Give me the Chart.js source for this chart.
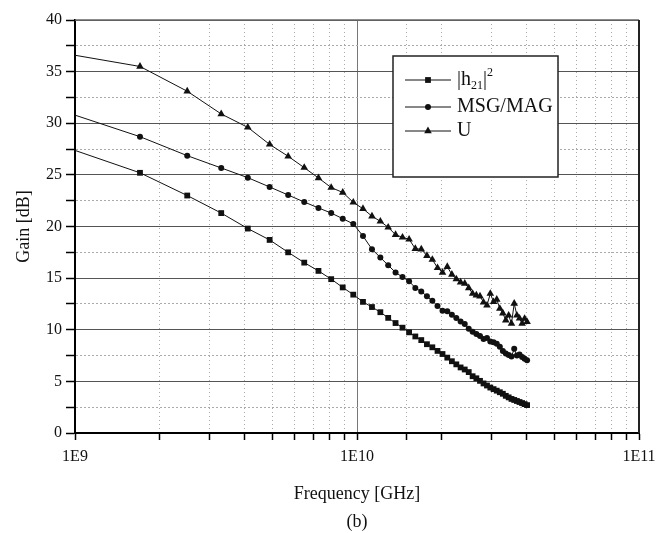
<!DOCTYPE html>
<html>
<head>
<meta charset="utf-8">
<script src="https://cdn.jsdelivr.net/npm/chart.js@4.4.1/dist/chart.umd.min.js"></script>
<style>
  html, body { margin: 0; padding: 0; background: #fff; }
</style>
</head>
<body>
<canvas id="gainChart" width="660" height="533"></canvas>
<script>
// Gain vs frequency, three series on a log frequency axis
// frequency points in GHz (first one sits just left of the axis, line enters from the edge)
const freqGHz = [0.9, 1.7, 2.5, 3.3, 4.1, 4.9, 5.7, 6.5, 7.3, 8.1,
  8.9, 9.7, 10.5, 11.3, 12.1, 12.9, 13.7, 14.5, 15.3, 16.1,
  16.9, 17.7, 18.5, 19.3, 20.1, 20.9, 21.7, 22.5, 23.3, 24.1,
  24.9, 25.7, 26.5, 27.3, 28.1, 28.9, 29.7, 30.5, 31.3, 32.1,
  32.9, 33.7, 34.5, 35.3, 36.1, 36.9, 37.7, 38.5, 39.3, 40.1];

const h21 = [27.8, 25.2, 23.0, 21.3, 19.8, 18.7, 17.5, 16.5, 15.7, 14.9,
  14.1, 13.4, 12.7, 12.2, 11.7, 11.15, 10.65, 10.2, 9.75, 9.35,
  9.0, 8.6, 8.3, 7.95, 7.65, 7.3, 6.95, 6.65, 6.35, 6.15,
  5.9, 5.5, 5.3, 5.05, 4.8, 4.6, 4.4, 4.25, 4.1, 3.95,
  3.8, 3.6, 3.45, 3.3, 3.2, 3.1, 3.0, 2.9, 2.8, 2.7];

const msgMag = [31.2, 28.7, 26.86, 25.67, 24.73, 23.83, 23.05, 22.37, 21.8, 21.3,
  20.76, 20.25, 19.08, 17.8, 17.0, 16.25, 15.55, 15.1, 14.7, 14.05,
  13.7, 13.25, 12.8, 12.3, 11.85, 11.8, 11.45, 11.15, 10.8, 10.55,
  10.1, 9.8, 9.6, 9.4, 9.1, 9.2, 8.85, 8.8, 8.65, 8.35,
  7.95, 7.7, 7.55, 7.4, 8.15, 7.5, 7.6, 7.35, 7.2, 7.05];

const uGain = [36.8, 35.5, 33.1, 30.9, 29.6, 27.95, 26.8, 25.7, 24.7, 23.77,
  23.3, 22.34, 21.72, 21.0, 20.5, 19.92, 19.2, 18.95, 18.76, 17.85,
  17.8, 17.17, 16.8, 16.0, 15.55, 16.1, 15.35, 14.9, 14.6, 14.48,
  14.05, 13.5, 13.34, 13.25, 12.66, 12.37, 13.5, 12.7, 12.93, 12.05,
  11.6, 10.92, 11.4, 10.6, 12.54, 11.4, 11.1, 10.6, 11.08, 10.76];

const xMajor = [1e9, 1e10, 1e11];
const xMajorLabels = ['1E9', '1E10', '1E11'];
const yMajor = [0, 5, 10, 15, 20, 25, 30, 35, 40];

const serif = "'Liberation Serif', 'Times New Roman', serif";

function isXMajor(v) {
  return xMajor.findIndex(m => Math.abs(v - m) / m < 1e-6);
}

function toPoints(vals) {
  return freqGHz.map((f, i) => ({ x: f * 1e9, y: vals[i] }));
}

function drawMarker(ctx, style, x, y, r) {
  ctx.beginPath();
  if (style === 'rect') {
    const s = r * Math.SQRT1_2;
    ctx.rect(x - s, y - s, 2 * s, 2 * s);
  } else if (style === 'triangle') {
    let a = 0;
    ctx.moveTo(x + Math.sin(a) * r, y - Math.cos(a) * r);
    a += 2 * Math.PI / 3;
    ctx.lineTo(x + Math.sin(a) * r, y - Math.cos(a) * r);
    a += 2 * Math.PI / 3;
    ctx.lineTo(x + Math.sin(a) * r, y - Math.cos(a) * r);
    ctx.closePath();
  } else {
    ctx.arc(x, y, r, 0, Math.PI * 2);
  }
  ctx.fill();
}

// top / right border of the plot box
const frame = {
  id: 'frame',
  afterDatasetsDraw(chart) {
    const { ctx, chartArea: a } = chart;
    ctx.save();
    ctx.strokeStyle = '#666';
    ctx.lineWidth = 1.5;
    ctx.beginPath();
    ctx.moveTo(a.left, a.top);
    ctx.lineTo(a.right, a.top);
    ctx.stroke();
    ctx.strokeStyle = '#222';
    ctx.lineWidth = 2;
    ctx.beginPath();
    ctx.moveTo(a.right, a.top);
    ctx.lineTo(a.right, a.bottom);
    ctx.stroke();
    ctx.restore();
  }
};

// boxed legend inside the plot
const boxLegend = {
  id: 'boxLegend',
  afterDraw(chart) {
    const ctx = chart.ctx;
    const box = { left: 393, top: 56, right: 558, bottom: 177 };
    const rows = [80, 107, 131];
    ctx.save();
    ctx.fillStyle = '#fff';
    ctx.fillRect(box.left, box.top, box.right - box.left, box.bottom - box.top);
    ctx.strokeStyle = '#222';
    ctx.lineWidth = 1.5;
    ctx.strokeRect(box.left, box.top, box.right - box.left, box.bottom - box.top);

    chart.data.datasets.forEach((ds, i) => {
      const y = rows[i];
      ctx.strokeStyle = ds.borderColor;
      ctx.lineWidth = 1;
      ctx.beginPath();
      ctx.moveTo(405, y);
      ctx.lineTo(451, y);
      ctx.stroke();
      ctx.fillStyle = ds.backgroundColor;
      drawMarker(ctx, ds.pointStyle, 428, y, ds.pointRadius);

      ctx.fillStyle = '#111';
      ctx.textBaseline = 'middle';
      let x = 457;
      ds.legendParts.forEach(p => {
        ctx.font = p.size + 'px ' + serif;
        ctx.fillText(p.t, x, y + p.dy);
        x += ctx.measureText(p.t).width;
      });
    });
    ctx.restore();
  }
};

new Chart(document.getElementById('gainChart'), {
  type: 'line',
  data: {
    datasets: [
      {
        label: '|h21|²',
        legendParts: [
          { t: '|h', dy: 0, size: 20 },
          { t: '21', dy: 6, size: 12 },
          { t: '|', dy: 0, size: 20 },
          { t: '2', dy: -7, size: 12 }
        ],
        data: toPoints(h21),
        borderColor: '#111',
        backgroundColor: '#111',
        borderWidth: 1,
        pointStyle: 'rect',
        pointRadius: 4.1,
        pointBorderWidth: 0
      },
      {
        label: 'MSG/MAG',
        legendParts: [{ t: 'MSG/MAG', dy: 0, size: 20 }],
        data: toPoints(msgMag),
        borderColor: '#111',
        backgroundColor: '#111',
        borderWidth: 1,
        pointStyle: 'circle',
        pointRadius: 3.0,
        pointBorderWidth: 0
      },
      {
        label: 'U',
        legendParts: [{ t: 'U', dy: 0, size: 20 }],
        data: toPoints(uGain),
        borderColor: '#111',
        backgroundColor: '#111',
        borderWidth: 1,
        pointStyle: 'triangle',
        pointRadius: 4.4,
        pointBorderWidth: 0
      }
    ]
  },
  options: {
    responsive: false,
    animation: false,
    events: [],
    layout: {
      padding: { top: 20, right: 21, left: 0, bottom: 0 }
    },
    plugins: {
      legend: { display: false },
      tooltip: { enabled: false }
    },
    scales: {
      x: {
        type: 'logarithmic',
        min: 1e9,
        max: 1e11,
        afterFit: function(scale) {
          scale.height = 100;
          scale.paddingLeft = 0;
          scale.paddingRight = 0;
        },
        border: {
          color: '#000',
          width: 2,
          dash: function(ctx) {
            return ctx.tick && isXMajor(ctx.tick.value) < 0 ? [1, 3] : [];
          }
        },
        grid: {
          color: function(ctx) {
            return ctx.tick && isXMajor(ctx.tick.value) >= 0 ? '#777' : '#aaa';
          },
          lineWidth: 1,
          tickColor: '#000',
          tickLength: 7,
          tickWidth: 1.5
        },
        ticks: {
          autoSkip: false,
          maxRotation: 0,
          padding: 7,
          color: '#111',
          font: { family: serif, size: 16 },
          callback: function(value) {
            const i = isXMajor(value);
            return i >= 0 ? xMajorLabels[i] : '';
          }
        },
        title: {
          display: true,
          text: ['Frequency [GHz]', '(b)'],
          color: '#111',
          font: { family: serif, size: 18, lineHeight: 1.56 },
          padding: { top: 0, bottom: -3 }
        }
      },
      y: {
        min: 0,
        max: 40,
        afterFit: function(scale) { scale.width = 75; },
        border: {
          color: '#000',
          width: 2,
          dash: function(ctx) {
            return ctx.tick && ctx.tick.value % 5 !== 0 ? [2, 2] : [];
          }
        },
        grid: {
          color: function(ctx) {
            return ctx.tick && ctx.tick.value % 5 !== 0 ? '#aaa' : '#555';
          },
          lineWidth: 1,
          tickColor: '#000',
          tickLength: 9,
          tickWidth: 1.5
        },
        ticks: {
          stepSize: 2.5,
          autoSkip: false,
          padding: 4,
          color: '#111',
          font: { family: serif, size: 16 },
          callback: function(value) {
            return yMajor.includes(value) ? String(value) : '';
          }
        },
        title: {
          display: true,
          text: 'Gain [dB]',
          color: '#111',
          font: { family: serif, size: 18 },
          padding: { top: 13, bottom: 0 }
        }
      }
    }
  },
  plugins: [frame, boxLegend]
});
</script>
</body>
</html>
